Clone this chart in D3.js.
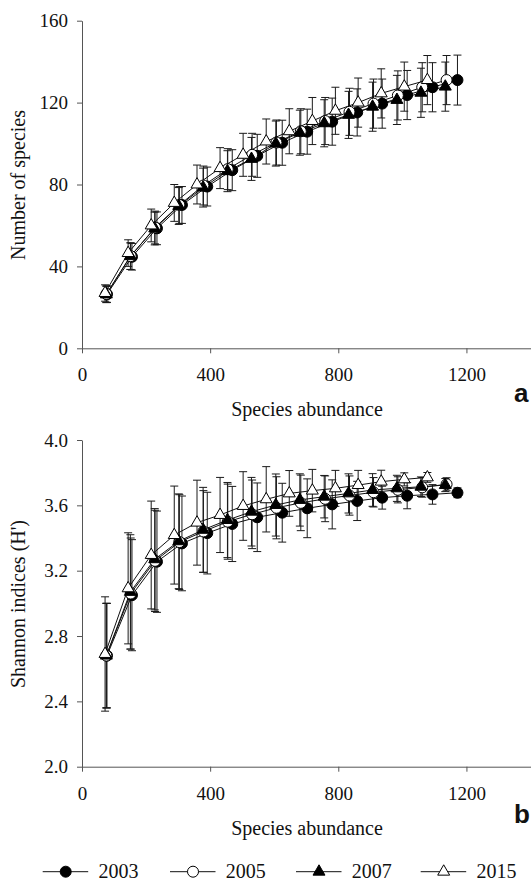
<!DOCTYPE html>
<html>
<head>
<meta charset="utf-8">
<script src="https://cdn.jsdelivr.net/npm/d3@7"></script>
</head>
<body style="margin:0;background:#fff">
<svg style="display:block"></svg>
<script>
const SVG_WIDTH = 531;
const SVG_HEIGHT = 881;
const SERIF = "'Liberation Serif', 'Times New Roman', serif";
const SANS = "'Liberation Sans', Arial, sans-serif";

// Survey years (one series each)
const years = ['2003', '2005', '2007', '2015'];

// Species abundance (x) for each survey year
const abund2003 = [78, 156, 234, 312, 391, 469, 547, 625, 703, 781, 859, 937, 1015, 1094, 1172];
const abund2005 = [76, 152, 228, 304, 379, 455, 531, 607, 683, 759, 835, 910, 986, 1062, 1138];
const abund2007 = [76, 151, 227, 302, 378, 454, 529, 605, 680, 756, 832, 907, 983, 1058, 1134];
const abund2015 = [72, 144, 216, 288, 359, 431, 503, 575, 647, 719, 791, 862, 934, 1006, 1078];

// Panel a: number of species, with +/- error
const species2003 = [26.4, 44.7, 58.6, 70, 79, 87, 94, 100.4, 105.8, 110.7, 115.2, 119.5, 123.7, 127.5, 131];
const species2005 = [26.5, 45, 59, 70, 79.5, 87.5, 94.5, 100.5, 106, 111, 115.5, 119.5, 123.5, 127.5, 131];
const species2007 = [26.3, 45, 58.5, 69.5, 78.5, 86.5, 92.5, 100, 105.3, 109.9, 114, 118, 121.3, 124.8, 127.8];
const species2015 = [27, 46.5, 60, 71, 80, 88, 94.5, 101, 106, 111, 116, 120, 124.5, 127.8, 131];
const speciesErr2003 = [4, 6.5, 8, 9, 9.5, 10, 10.5, 11, 11, 11.5, 11.5, 12, 12, 12, 12.2];
const speciesErr2005 = [4, 6.5, 8, 9, 9.5, 10, 10.5, 11, 11, 11.5, 11.5, 12, 12, 12, 12];
const speciesErr2007 = [4, 6.5, 8, 9, 9.5, 10, 10.5, 11, 11, 11.5, 11.5, 12, 12, 12, 12];
const speciesErr2015 = [4, 6.5, 8, 9, 9.5, 10, 10.5, 11, 11, 11.5, 11.5, 12, 12, 12, 12];

// Panel b: Shannon indices (H'), with +/- error
const shannon2003 = [2.68, 3.05, 3.255, 3.367, 3.43, 3.486, 3.527, 3.555, 3.582, 3.606, 3.627, 3.647, 3.659, 3.667, 3.677];
const shannon2005 = [2.68, 3.06, 3.26, 3.375, 3.44, 3.5, 3.545, 3.585, 3.615, 3.64, 3.66, 3.68, 3.695, 3.71, 3.729];
const shannon2007 = [2.68, 3.07, 3.27, 3.38, 3.45, 3.51, 3.561, 3.602, 3.633, 3.653, 3.673, 3.694, 3.704, 3.714, 3.724];
const shannon2015 = [2.69, 3.092, 3.296, 3.418, 3.494, 3.541, 3.596, 3.637, 3.673, 3.69, 3.704, 3.724, 3.745, 3.759, 3.771];
const shannonErr2003 = [0.32, 0.34, 0.31, 0.29, 0.25, 0.23, 0.21, 0.18, 0.18, 0.15, 0.12, 0.07, 0.08, 0.06, 0.03];
const shannonErr2005 = [0.32, 0.34, 0.31, 0.29, 0.25, 0.23, 0.21, 0.19, 0.17, 0.14, 0.12, 0.09, 0.08, 0.06, 0.04];
const shannonErr2007 = [0.32, 0.35, 0.31, 0.29, 0.26, 0.23, 0.21, 0.19, 0.16, 0.13, 0.12, 0.1, 0.08, 0.06, 0.04];
const shannonErr2015 = [0.35, 0.34, 0.33, 0.3, 0.26, 0.23, 0.21, 0.2, 0.14, 0.13, 0.11, 0.09, 0.07, 0.04, 0.03];

const xTicks = [0, 400, 800, 1200];
const speciesTicks = [0, 40, 80, 120, 160];
const shannonTicks = [2.0, 2.4, 2.8, 3.2, 3.6, 4.0];

const markers = {
  '2003': {shape: d3.symbolCircle, fill: '#000'},
  '2005': {shape: d3.symbolCircle, fill: '#fff'},
  '2007': {shape: d3.symbolTriangle, fill: '#000'},
  '2015': {shape: d3.symbolTriangle, fill: '#fff'}
};

const abundance = {'2003': abund2003, '2005': abund2005, '2007': abund2007, '2015': abund2015};

const svg = d3.select('svg')
  .attr('width', SVG_WIDTH)
  .attr('height', SVG_HEIGHT)
  .attr('viewBox', `0 0 ${SVG_WIDTH} ${SVG_HEIGHT}`);

svg.append('rect').attr('width', SVG_WIDTH).attr('height', SVG_HEIGHT).attr('fill', '#fff');

function symbolPath(year) {
  const m = markers[year];
  const size = m.shape === d3.symbolCircle ? 95 : 62;
  return d3.symbol().type(m.shape).size(size)();
}

function serifText(sel, size) {
  return sel.style('font-family', SERIF).style('font-size', size + 'px').attr('fill', '#111');
}

function drawPanel(opts) {
  const x = d3.scaleLinear().domain([0, 1400]).range([82, 530.5]);
  const y = d3.scaleLinear().domain(opts.domain).range([opts.bottom, opts.top]);
  const g = svg.append('g');

  // Axes
  const xAxis = g.append('g')
    .attr('transform', `translate(0,${opts.bottom})`)
    .call(d3.axisBottom(x).tickValues(xTicks).tickFormat(d3.format('d'))
      .tickSize(5).tickSizeOuter(0).tickPadding(14.5));
  const yAxis = g.append('g')
    .attr('transform', 'translate(82,0)')
    .call(d3.axisLeft(y).tickValues(opts.ticks).tickFormat(opts.format)
      .tickSize(5).tickSizeOuter(0).tickPadding(9));
  for (const ax of [xAxis, yAxis]) {
    ax.select('.domain').attr('stroke', '#555');
    ax.selectAll('.tick line').attr('stroke', '#555');
    serifText(ax.selectAll('.tick text'), 19);
  }

  // Series as rows of {x, y, e}
  const series = years.map(year => ({
    year,
    points: abundance[year].map((a, i) => ({x: a, y: opts.values[year][i], e: opts.errors[year][i]}))
  }));

  // Error bars
  for (const s of series) {
    const eb = g.append('g').attr('stroke', '#1a1a1a').attr('stroke-width', 1);
    eb.append('g').selectAll('line')
      .data(s.points)
      .join('line')
      .attr('x1', d => x(d.x)).attr('x2', d => x(d.x))
      .attr('y1', d => y(d.y - d.e)).attr('y2', d => y(d.y + d.e));
    for (const sign of [-1, 1]) {
      eb.append('g').selectAll('line')
        .data(s.points)
        .join('line')
        .attr('x1', d => x(d.x) - 4).attr('x2', d => x(d.x) + 4)
        .attr('y1', d => y(d.y + sign * d.e)).attr('y2', d => y(d.y + sign * d.e));
    }
  }

  // Connecting lines
  const line = d3.line().x(d => x(d.x)).y(d => y(d.y));
  for (const s of series) {
    g.append('path')
      .datum(s.points)
      .attr('d', line)
      .attr('fill', 'none')
      .attr('stroke', '#111')
      .attr('stroke-width', 1);
  }

  // Markers
  for (const s of series) {
    g.append('g').selectAll('path')
      .data(s.points)
      .join('path')
      .attr('d', symbolPath(s.year))
      .attr('transform', d => `translate(${x(d.x)},${y(d.y)})`)
      .attr('fill', markers[s.year].fill)
      .attr('stroke', '#000')
      .attr('stroke-width', 1);
  }

  // Titles
  serifText(g.append('text'), 20)
    .attr('x', 307)
    .attr('y', opts.bottom + 68)
    .attr('text-anchor', 'middle')
    .text('Species abundance');
  serifText(g.append('text'), 20)
    .attr('transform', `translate(25,${opts.yTitleCenter}) rotate(-90)`)
    .attr('text-anchor', 'middle')
    .text(opts.yTitle);
  g.append('text')
    .style('font-family', SANS)
    .style('font-size', '26px')
    .style('font-weight', 'bold')
    .attr('fill', '#111')
    .attr('x', 514)
    .attr('y', opts.bottom + opts.labelDy)
    .text(opts.label);
}

drawPanel({
  domain: [0, 160],
  top: 20.7,
  bottom: 348.3,
  ticks: speciesTicks,
  format: d3.format('d'),
  values: {'2003': species2003, '2005': species2005, '2007': species2007, '2015': species2015},
  errors: {'2003': speciesErr2003, '2005': speciesErr2005, '2007': speciesErr2007, '2015': speciesErr2015},
  yTitle: 'Number of species',
  yTitleCenter: 185,
  label: 'a',
  labelDy: 53.5
});

drawPanel({
  domain: [2.0, 4.0],
  top: 440,
  bottom: 766.7,
  ticks: shannonTicks,
  format: d3.format('.1f'),
  values: {'2003': shannon2003, '2005': shannon2005, '2007': shannon2007, '2015': shannon2015},
  errors: {'2003': shannonErr2003, '2005': shannonErr2005, '2007': shannonErr2007, '2015': shannonErr2015},
  yTitle: "Shannon indices (H')",
  yTitleCenter: 604,
  label: 'b',
  labelDy: 56
});

// Legend along the bottom
const legendX = [42.7, 170, 296, 420.7];
const legend = svg.append('g').attr('transform', 'translate(0,871.7)');
const item = legend.selectAll('g')
  .data(years)
  .join('g')
  .attr('transform', (d, i) => `translate(${legendX[i]},0)`);
item.append('line')
  .attr('x1', 0).attr('x2', 45.5)
  .attr('stroke', '#111').attr('stroke-width', 1);
item.append('path')
  .attr('d', d => symbolPath(d))
  .attr('transform', 'translate(23,0)')
  .attr('fill', d => markers[d].fill)
  .attr('stroke', '#000');
serifText(item.append('text'), 20)
  .attr('x', 55.8)
  .attr('y', 6.5)
  .text(d => d);
</script>
</body>
</html>
